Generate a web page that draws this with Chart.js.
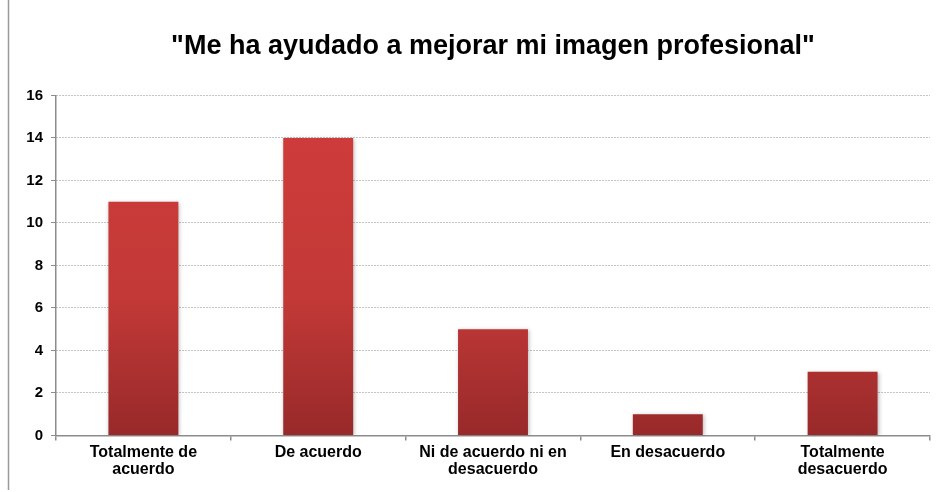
<!DOCTYPE html>
<html>
<head>
<meta charset="utf-8">
<script src="https://cdn.jsdelivr.net/npm/chart.js@4"></script>
<style>
html,body{margin:0;padding:0;background:#fff;}
#wrap{width:946px;height:492px;position:relative;}
</style>
</head>
<body>
<div id="wrap"><canvas id="c" width="946" height="492"></canvas></div>
<script>
const titleText = '"Me ha ayudado a mejorar mi imagen profesional"';
const categories = [["Totalmente de","acuerdo"],["De acuerdo"],["Ni de acuerdo ni en","desacuerdo"],["En desacuerdo"],["Totalmente","desacuerdo"]];
const values = [11, 14, 5, 1, 3];
const yTicks = [0, 2, 4, 6, 8, 10, 12, 14, 16];

const framePlugin = {
  id: 'frame',
  beforeDraw(chart) {
    const ctx = chart.ctx;
    ctx.save();
    ctx.fillStyle = '#fff';
    ctx.fillRect(0, 0, chart.width, chart.height);
    ctx.strokeStyle = '#999999';
    ctx.lineWidth = 1.5;
    ctx.beginPath();
    ctx.moveTo(8.5, 0);
    ctx.lineTo(8.5, 490);
    ctx.stroke();
    ctx.restore();
  },
  beforeDatasetsDraw(chart) {
    const ctx = chart.ctx;
    ctx.save();
    ctx.shadowColor = 'rgba(0,0,0,0.28)';
    ctx.shadowBlur = 4;
    ctx.shadowOffsetX = 1;
    ctx.shadowOffsetY = 1;
  },
  afterDatasetsDraw(chart) {
    chart.ctx.restore();
  }
};

function barGradient(context) {
  const chart = context.chart;
  const { ctx, chartArea } = chart;
  if (!chartArea) return '#c53a3a';
  const g = ctx.createLinearGradient(0, chartArea.top, 0, chartArea.bottom);
  g.addColorStop(0, '#d03c3b');
  g.addColorStop(0.6, '#c23937');
  g.addColorStop(1, '#98292a');
  return g;
}

new Chart(document.getElementById('c'), {
  type: 'bar',
  data: {
    labels: categories,
    datasets: [{
      data: values,
      backgroundColor: barGradient,
      borderWidth: 0,
      barPercentage: 0.4,
      categoryPercentage: 1.0
    }]
  },
  plugins: [framePlugin],
  options: {
    responsive: false,
    animation: false,
    layout: { padding: { left: 0, right: 16, top: 0, bottom: 10 } },
    plugins: {
      legend: { display: false },
      tooltip: { enabled: false },
      title: {
        display: true,
        fullSize: false,
        text: titleText,
        color: '#000',
        font: { family: 'Liberation Sans, Arial, sans-serif', size: 27, weight: 'bold', lineHeight: 1.2 },
        padding: { top: 30, bottom: 33 }
      }
    },
    scales: {
      x: {
        offset: true,
        grid: { display: true, drawOnChartArea: false, drawTicks: true, tickLength: 5, color: '#8c8c8c', offset: true, lineWidth: 1.5 },
        border: { display: true, color: '#8c8c8c', width: 1.5 },
        ticks: {
          color: '#000',
          font: { family: 'Liberation Sans, Arial, sans-serif', size: 16, weight: 'bold', lineHeight: 1.05 },
          padding: 4,
          maxRotation: 0,
          autoSkip: false
        }
      },
      y: {
        min: yTicks[0],
        max: yTicks[yTicks.length - 1],
        afterFit(scale) { scale.width = 56; },
        afterBuildTicks(scale) { scale.ticks = yTicks.map(v => ({ value: v })); },
        grid: {
          color: '#8a8a8a',
          lineWidth: 1,
          drawTicks: true,
          tickLength: 5,
          tickColor: '#8c8c8c'
        },
        border: { display: true, color: '#8c8c8c', width: 1.5, dash: [1, 2] },
        ticks: {
          color: '#000',
          font: { family: 'Liberation Sans, Arial, sans-serif', size: 15, weight: 'bold' },
          padding: 8
        }
      }
    }
  }
});
</script>
</body>
</html>
